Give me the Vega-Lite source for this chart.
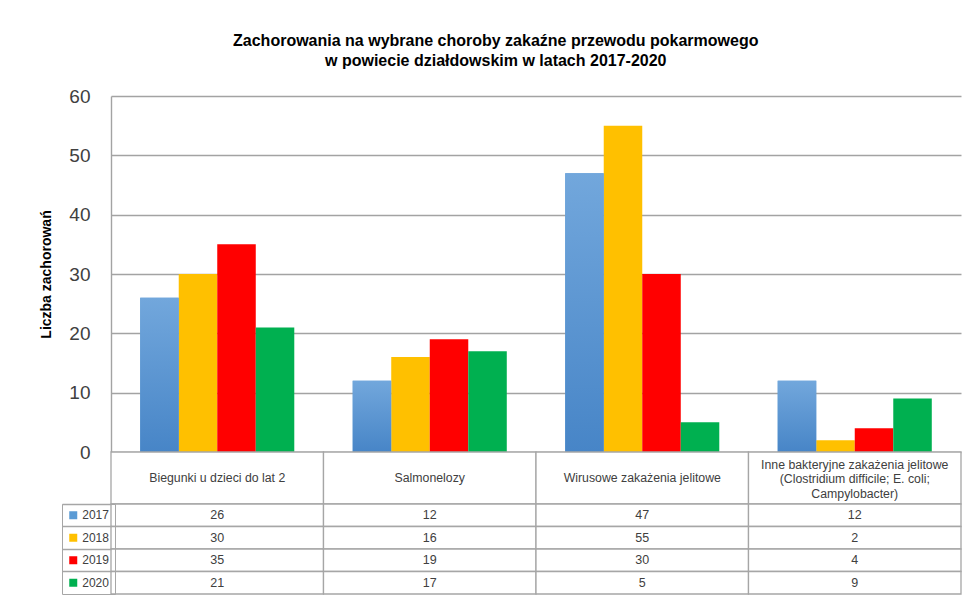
{
  "$schema": "https://vega.github.io/schema/vega-lite/v6.json",
  "background": "white",
  "padding": {"left": 39, "top": 33, "right": 5, "bottom": 0},
  "title": {
    "text": ["Zachorowania na wybrane choroby zakaźne przewodu pokarmowego", "w powiecie działdowskim w latach 2017-2020"],
    "font": "Liberation Sans",
    "fontSize": 16,
    "fontWeight": "bold",
    "color": "#000000",
    "anchor": "middle",
    "lineHeight": 20,
    "offset": 18,
    "dx": -5
  },
  "datasets": {
    "cases": [
      {"kategoria": "Biegunki u dzieci do lat 2", "rok": "2017", "liczba": 26},
      {"kategoria": "Biegunki u dzieci do lat 2", "rok": "2018", "liczba": 30},
      {"kategoria": "Biegunki u dzieci do lat 2", "rok": "2019", "liczba": 35},
      {"kategoria": "Biegunki u dzieci do lat 2", "rok": "2020", "liczba": 21},
      {"kategoria": "Salmonelozy", "rok": "2017", "liczba": 12},
      {"kategoria": "Salmonelozy", "rok": "2018", "liczba": 16},
      {"kategoria": "Salmonelozy", "rok": "2019", "liczba": 19},
      {"kategoria": "Salmonelozy", "rok": "2020", "liczba": 17},
      {"kategoria": "Wirusowe zakażenia jelitowe", "rok": "2017", "liczba": 47},
      {"kategoria": "Wirusowe zakażenia jelitowe", "rok": "2018", "liczba": 55},
      {"kategoria": "Wirusowe zakażenia jelitowe", "rok": "2019", "liczba": 30},
      {"kategoria": "Wirusowe zakażenia jelitowe", "rok": "2020", "liczba": 5},
      {"kategoria": "Inne bakteryjne zakażenia jelitowe", "rok": "2017", "liczba": 12},
      {"kategoria": "Inne bakteryjne zakażenia jelitowe", "rok": "2018", "liczba": 2},
      {"kategoria": "Inne bakteryjne zakażenia jelitowe", "rok": "2019", "liczba": 4},
      {"kategoria": "Inne bakteryjne zakażenia jelitowe", "rok": "2020", "liczba": 9}
    ],
    "categories": [
      {"kategoria": "Biegunki u dzieci do lat 2", "etykieta": "Biegunki u dzieci do lat 2", "wiersze": 1},
      {"kategoria": "Salmonelozy", "etykieta": "Salmonelozy", "wiersze": 1},
      {"kategoria": "Wirusowe zakażenia jelitowe", "etykieta": "Wirusowe zakażenia jelitowe", "wiersze": 1},
      {"kategoria": "Inne bakteryjne zakażenia jelitowe", "etykieta": "Inne bakteryjne zakażenia jelitowe\n(Clostridium difficile; E. coli;\nCampylobacter)", "wiersze": 3}
    ]
  },
  "bounds": "flush",
  "spacing": 0,
  "resolve": {
    "scale": {"x": "independent", "y": "independent", "color": "shared"},
    "legend": {"color": "independent"}
  },
  "vconcat": [
    {
      "width": 850,
      "height": 356,
      "data": {"name": "cases"},
      "encoding": {
        "x": {
          "field": "kategoria", "type": "nominal",
          "sort": ["Biegunki u dzieci do lat 2", "Salmonelozy", "Wirusowe zakażenia jelitowe", "Inne bakteryjne zakażenia jelitowe"],
          "scale": {"paddingInner": 0.275, "paddingOuter": 0.1375},
          "axis": null
        },
        "xOffset": {
          "field": "rok", "type": "nominal",
          "scale": {"domain": ["2017", "2018", "2019", "2020"], "paddingInner": 0, "paddingOuter": 0}
        },
        "y": {
          "field": "liczba", "type": "quantitative",
          "scale": {"domain": [0, 60], "nice": false},
          "axis": {
            "values": [0, 10, 20, 30, 40, 50, 60],
            "grid": true, "gridColor": "#a3a3a3", "gridWidth": 1.4,
            "domain": true, "domainColor": "#a3a3a3", "domainWidth": 1.4,
            "ticks": false,
            "labelFont": "Liberation Sans", "labelFontSize": 19, "labelColor": "#404040", "labelPadding": 21,
            "title": "Liczba zachorowań",
            "titleFont": "Liberation Sans", "titleFontSize": 14, "titleFontWeight": "bold", "titleColor": "#000000",
            "titlePadding": 15
          }
        }
      },
      "layer": [
        {
          "mark": {"type": "bar"},
          "encoding": {
            "color": {
              "field": "rok", "type": "nominal",
              "scale": {
                "domain": ["2017", "2018", "2019", "2020"],
                "range": ["#5b9bd5", "#ffc000", "#ff0000", "#00b050"]
              },
              "legend": null
            }
          }
        },
        {
          "transform": [{"filter": "datum.rok == '2017'"}],
          "mark": {
            "type": "bar",
            "color": {"gradient": "linear", "x1": 0, "y1": 0, "x2": 0, "y2": 1, "stops": [{"offset": 0, "color": "#72a7dc"}, {"offset": 1, "color": "#4785c7"}]}
          }
        }
      ]
    },
    {
      "width": 850,
      "height": 52,
      "data": {"name": "categories"},
      "encoding": {
        "x": {
          "field": "kategoria", "type": "nominal",
          "sort": ["Biegunki u dzieci do lat 2", "Salmonelozy", "Wirusowe zakażenia jelitowe", "Inne bakteryjne zakażenia jelitowe"],
          "scale": {"paddingInner": 0, "paddingOuter": 0},
          "axis": null
        }
      },
      "layer": [
        {
          "mark": {"type": "rect", "fill": "white", "stroke": "#a6a6a6", "strokeWidth": 1.3}
        },
        {
          "transform": [{"filter": "datum.wiersze == 1"}],
          "mark": {"type": "text", "font": "Liberation Sans", "fontSize": 12.3, "color": "#404040", "baseline": "middle"},
          "encoding": {"text": {"field": "etykieta"}}
        },
        {
          "transform": [{"filter": "datum.wiersze == 3"}],
          "mark": {"type": "text", "font": "Liberation Sans", "fontSize": 12.3, "color": "#404040", "lineBreak": "\n", "lineHeight": 14.5, "baseline": "middle", "dy": -13.5},
          "encoding": {"text": {"field": "etykieta"}}
        }
      ]
    },
    {
      "width": 850,
      "height": 90,
      "data": {"name": "cases"},
      "layer": [
        {
          "mark": {"type": "rect", "fill": "white", "stroke": "#a6a6a6", "strokeWidth": 1.3},
          "encoding": {
            "x": {
              "field": "kategoria", "type": "nominal",
              "sort": ["Biegunki u dzieci do lat 2", "Salmonelozy", "Wirusowe zakażenia jelitowe", "Inne bakteryjne zakażenia jelitowe"],
              "scale": {"paddingInner": 0, "paddingOuter": 0},
              "axis": null
            },
            "y": {
              "field": "rok", "type": "nominal",
              "sort": ["2017", "2018", "2019", "2020"],
              "scale": {"paddingInner": 0, "paddingOuter": 0},
              "axis": {
                "title": null, "labels": false, "domain": false,
                "ticks": true, "tickSize": 49, "tickColor": "#a6a6a6", "tickWidth": 1.3, "bandPosition": 0
              }
            }
          }
        },
        {
          "mark": {"type": "text", "font": "Liberation Sans", "fontSize": 12.5, "color": "#404040", "baseline": "middle"},
          "encoding": {
            "x": {
              "field": "kategoria", "type": "nominal",
              "sort": ["Biegunki u dzieci do lat 2", "Salmonelozy", "Wirusowe zakażenia jelitowe", "Inne bakteryjne zakażenia jelitowe"]
            },
            "y": {"field": "rok", "type": "nominal", "sort": ["2017", "2018", "2019", "2020"]},
            "text": {"field": "liczba", "type": "quantitative"}
          }
        },
        {
          "mark": {"type": "square", "opacity": 0, "size": 1},
          "encoding": {
            "x": {
              "field": "kategoria", "type": "nominal",
              "sort": ["Biegunki u dzieci do lat 2", "Salmonelozy", "Wirusowe zakażenia jelitowe", "Inne bakteryjne zakażenia jelitowe"]
            },
            "y": {"field": "rok", "type": "nominal", "sort": ["2017", "2018", "2019", "2020"]},
            "color": {
              "field": "rok", "type": "nominal",
              "legend": {
                "orient": "none", "legendX": -49, "legendY": 0,
                "title": null,
                "symbolType": "square", "symbolSize": 64, "symbolOpacity": 1, "symbolStrokeWidth": 0,
                "labelFont": "Liberation Sans", "labelFontSize": 12, "labelColor": "#404040", "labelOffset": 3,
                "padding": 5.25, "rowPadding": 10.5,
                "strokeColor": "#a6a6a6"
              }
            }
          }
        }
      ]
    }
  ],
  "config": {
    "view": {"stroke": null}
  }
}
